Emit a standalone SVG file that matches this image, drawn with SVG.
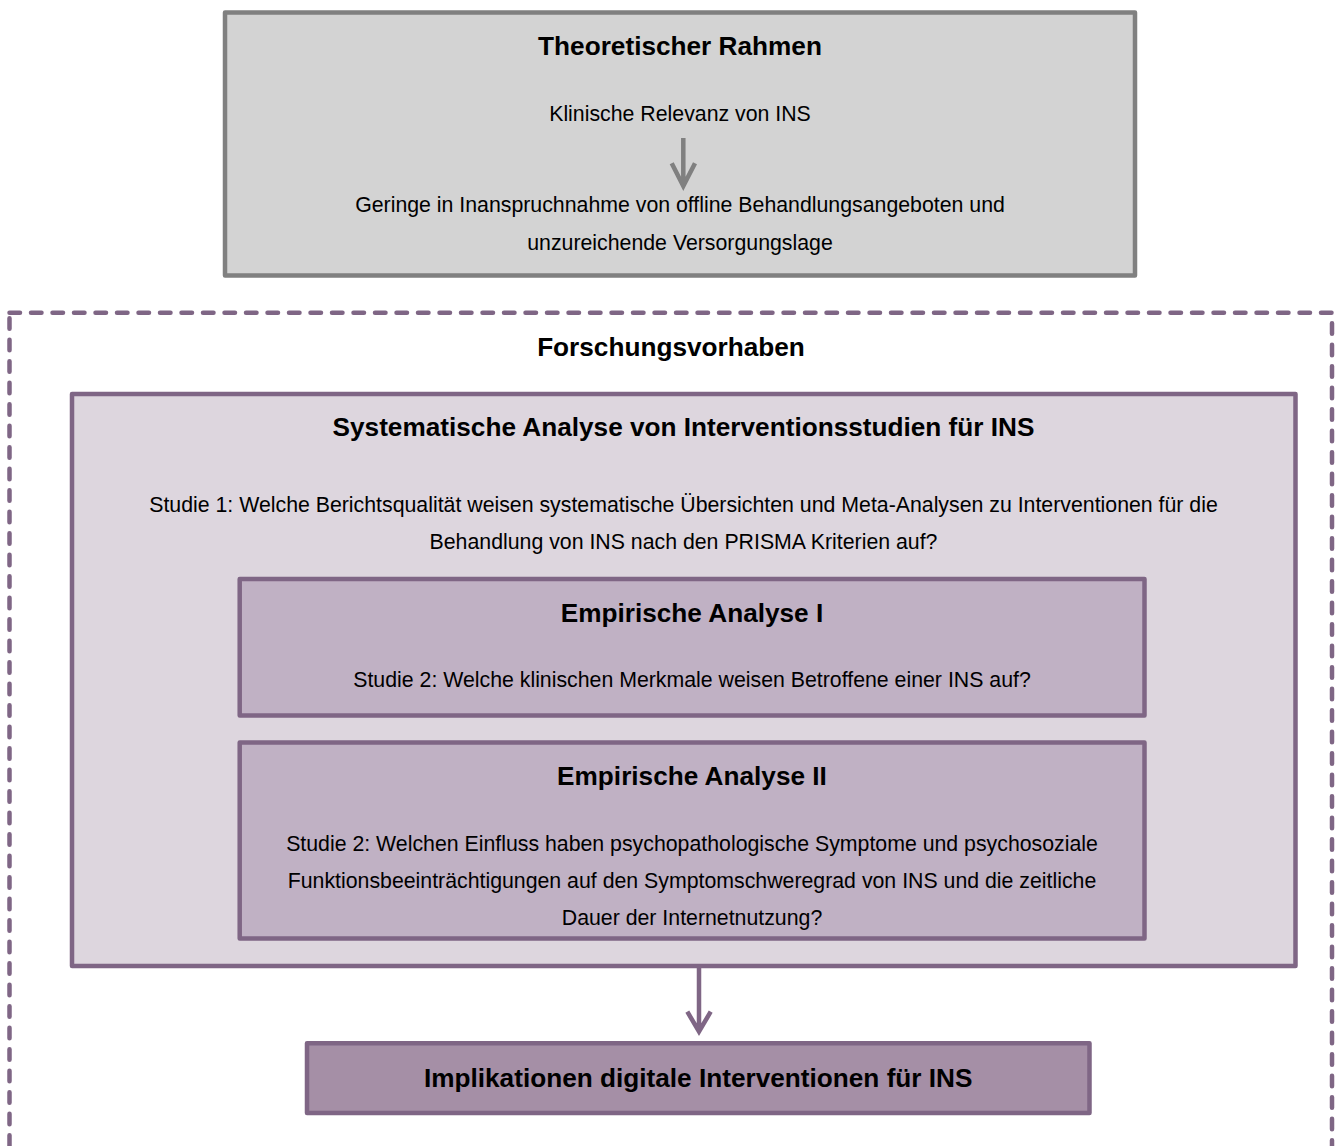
<svg xmlns="http://www.w3.org/2000/svg" width="1339" height="1146" viewBox="0 0 1339 1146">
<style>
  .t { font-family: "Liberation Sans", Arial, sans-serif; fill: #000; text-anchor: middle; }
  .b { font-weight: bold; font-size: 26.2px; }
  .r { font-size: 21.3px; }
  .pstroke { fill: none; stroke: #7f6685; stroke-width: 4.5; stroke-linejoin: round; }
</style>
<rect width="1339" height="1146" fill="#ffffff"/>

<g id="theoretischer-rahmen">
  <rect x="225" y="12.5" width="910" height="263" fill="#d3d3d3" stroke="#808080" stroke-width="4.5" stroke-linejoin="round"/>
  <text class="t b" x="680" y="55">Theoretischer Rahmen</text>
  <text class="t r" x="680" y="121">Klinische Relevanz von INS</text>
  <text class="t r" x="680" y="212">Geringe in Inanspruchnahme von offline Behandlungsangeboten und</text>
  <text class="t r" x="680" y="249.5">unzureichende Versorgungslage</text>
</g>

<g id="forschungsvorhaben">
  <rect x="9.5" y="312.7" width="1322.5" height="900" fill="none" stroke="#7f6685" stroke-width="4.5" stroke-dasharray="10.5 11" stroke-linecap="round" stroke-linejoin="round"/>
  <text class="t b" x="671" y="356">Forschungsvorhaben</text>
</g>

<g id="systematische-analyse">
  <rect x="72" y="394" width="1223.5" height="572" fill="#ddd6de"/>
  <rect x="72" y="394" width="1223.5" height="572" class="pstroke"/>
  <text class="t b" x="683.5" y="436">Systematische Analyse von Interventionsstudien für INS</text>
  <text class="t r" x="683.5" y="511.7">Studie 1: Welche Berichtsqualität weisen systematische Übersichten und Meta-Analysen zu Interventionen für die</text>
  <text class="t r" x="683.5" y="548.5">Behandlung von INS nach den PRISMA Kriterien auf?</text>
</g>

<g id="empirische-analyse-1">
  <rect x="239.7" y="579" width="904.8" height="136.5" fill="#c0b1c4"/>
  <text class="t b" x="692" y="621.7">Empirische Analyse I</text>
  <text class="t r" x="692" y="687.3">Studie 2: Welche klinischen Merkmale weisen Betroffene einer INS auf?</text>
  <rect x="239.7" y="579" width="904.8" height="136.5" class="pstroke"/>
</g>

<g id="empirische-analyse-2">
  <rect x="239.7" y="742.5" width="904.8" height="196" fill="#c0b1c4"/>
  <text class="t b" x="692" y="785">Empirische Analyse II</text>
  <text class="t r" x="692" y="850.7">Studie 2: Welchen Einfluss haben psychopathologische Symptome und psychosoziale</text>
  <text class="t r" x="692" y="888">Funktionsbeeinträchtigungen auf den Symptomschweregrad von INS und die zeitliche</text>
  <text class="t r" x="692" y="925.3">Dauer der Internetnutzung?</text>
  <rect x="239.7" y="742.5" width="904.8" height="196" class="pstroke"/>
</g>

<g id="implikationen">
  <rect x="307" y="1043.3" width="782.5" height="69.7" fill="#a58fa6" stroke="#7f6685" stroke-width="4.5" stroke-linejoin="round"/>
  <text class="t b" x="698.2" y="1087">Implikationen digitale Interventionen für INS</text>
</g>

<g id="connectors">
  <path d="M683.3 138 V185 M671.7 163.3 L683.3 186 L695 163.3" fill="none" stroke="#808080" stroke-width="4.5" stroke-linejoin="miter"/>
  <path d="M699 968 V1031 M687.3 1011.7 L699 1031.5 L710.7 1011.7" fill="none" stroke="#7f6685" stroke-width="4.5" stroke-linejoin="miter"/>
</g>
</svg>
